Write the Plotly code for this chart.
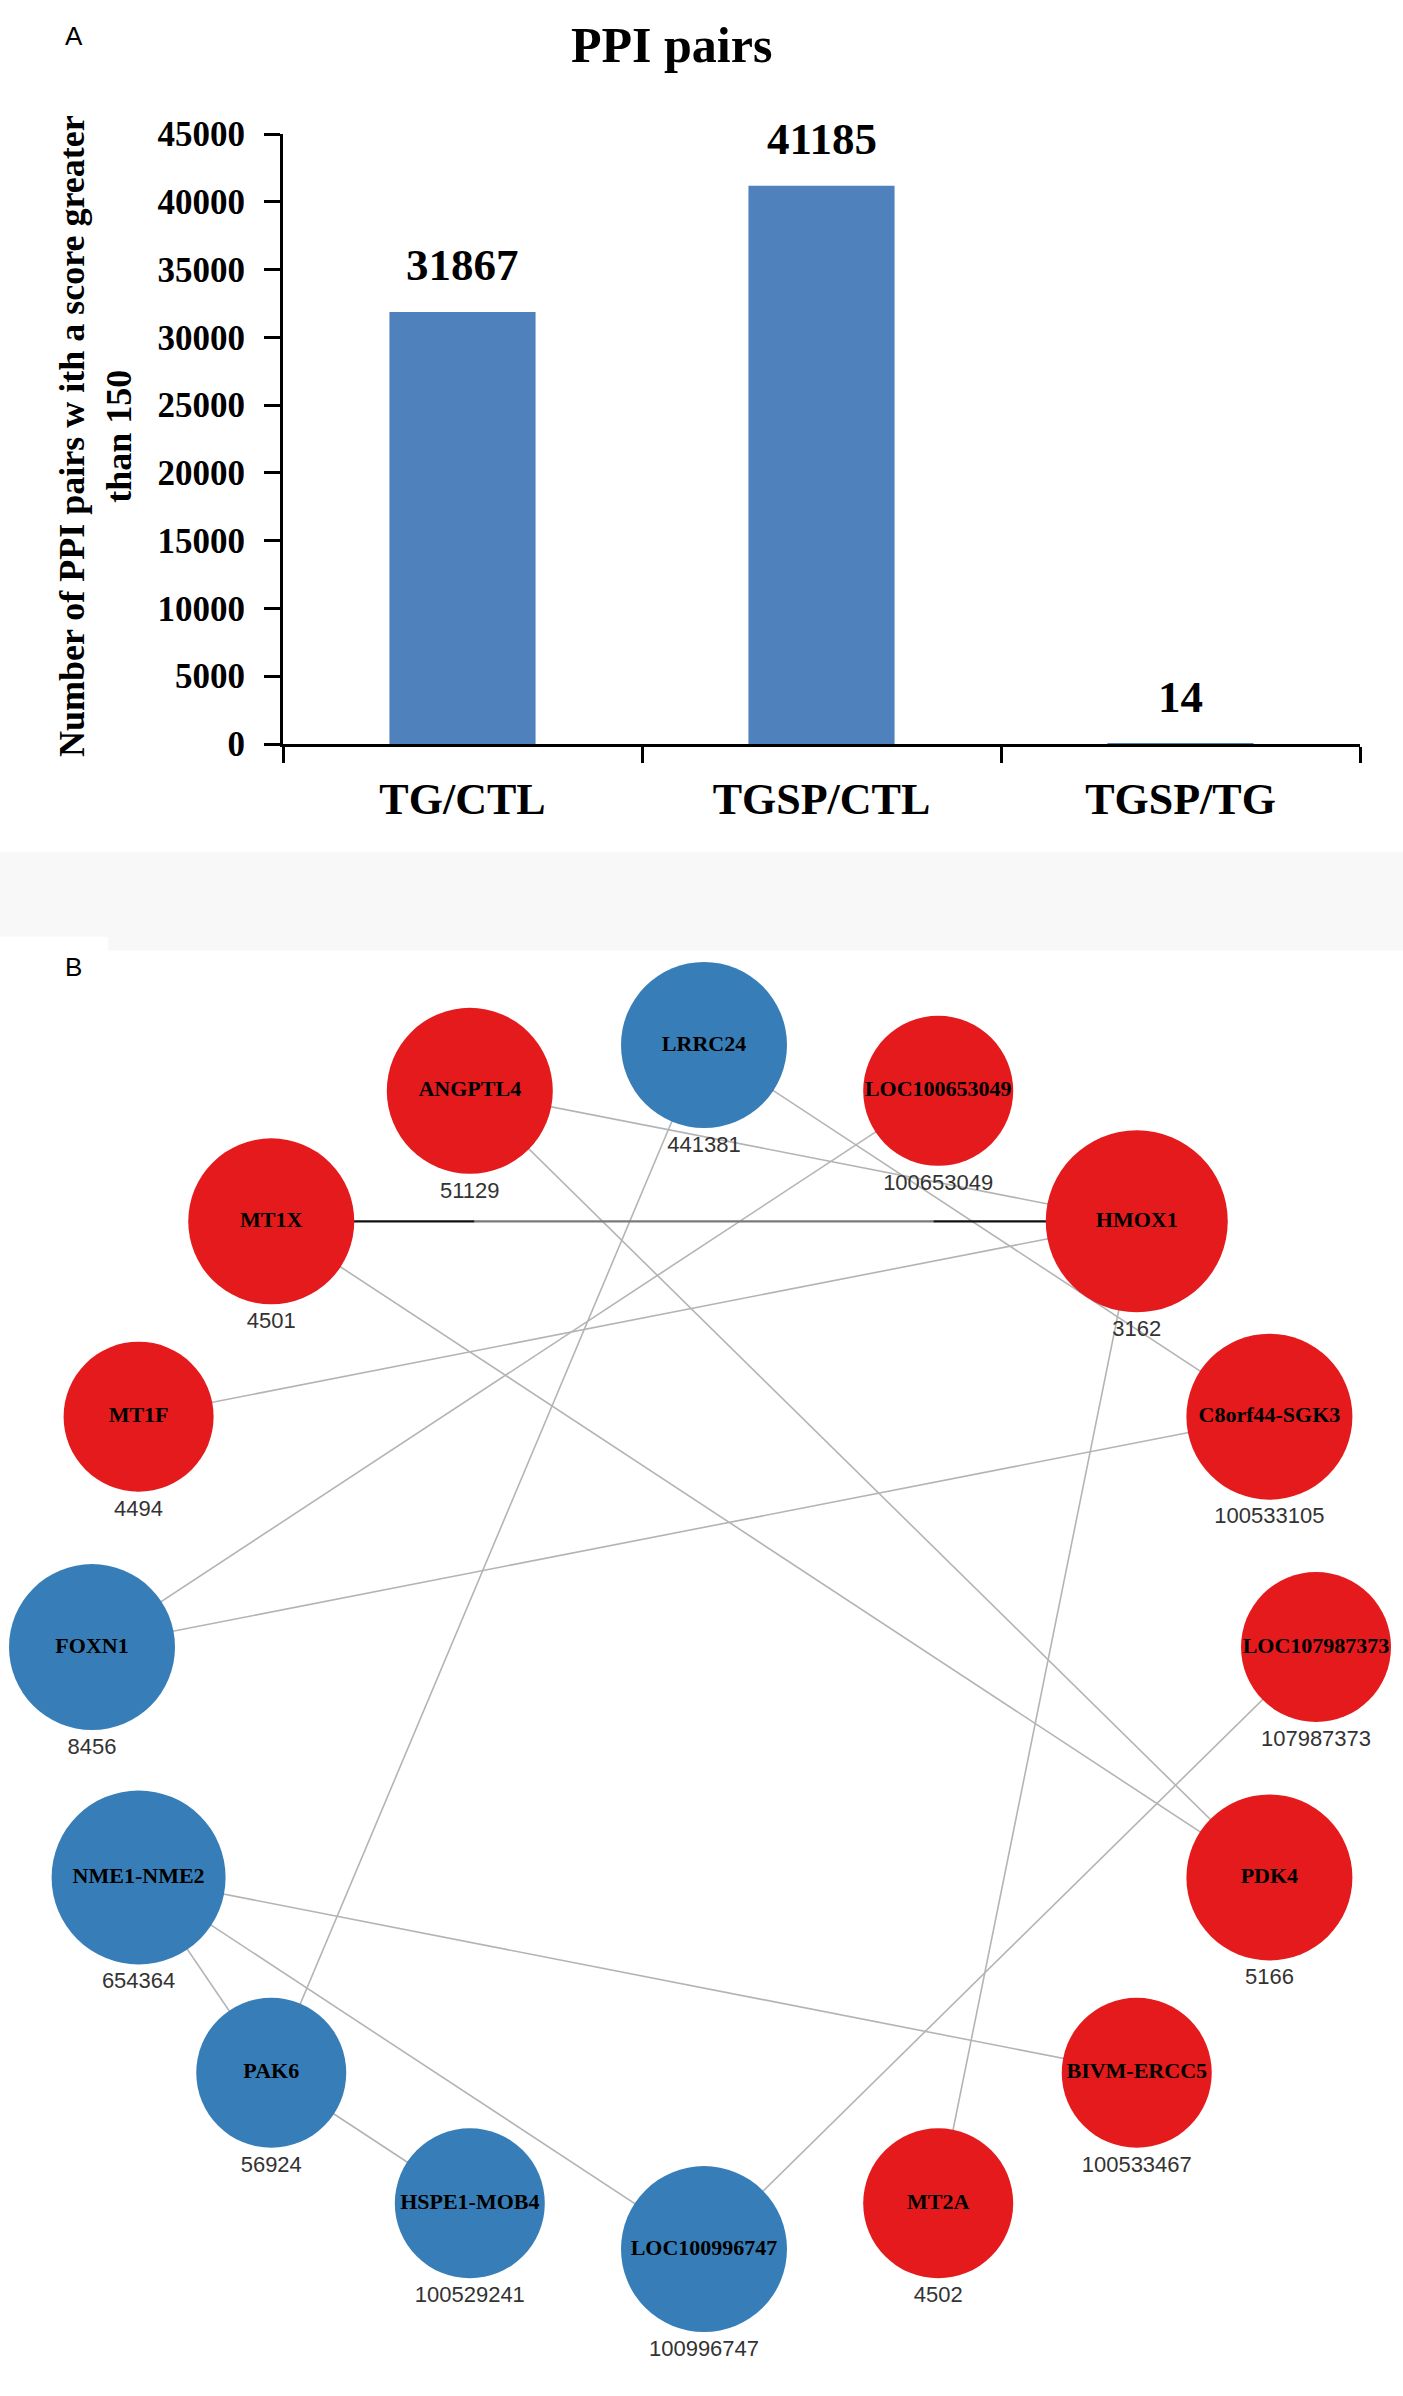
import math
import plotly.graph_objects as go

W, H = 1403, 2396

# panel A data
comparisons = ["TG/CTL", "TGSP/CTL", "TGSP/TG"]
ppi_pairs = [31867, 41185, 14]
y_ticks = [0, 5000, 10000, 15000, 20000, 25000, 30000, 35000, 40000, 45000]

# panel B data (circle order, clockwise from top)
genes = ["LRRC24", "LOC100653049", "HMOX1", "C8orf44-SGK3", "LOC107987373",
         "PDK4", "BIVM-ERCC5", "MT2A", "LOC100996747", "HSPE1-MOB4", "PAK6",
         "NME1-NME2", "FOXN1", "MT1F", "MT1X", "ANGPTL4"]
gene_ids = ["441381", "100653049", "3162", "100533105", "107987373", "5166",
            "100533467", "4502", "100996747", "100529241", "56924", "654364",
            "8456", "4494", "4501", "51129"]
regulation = ["down", "up", "up", "up", "up", "up", "up", "up", "down", "down",
              "down", "down", "down", "up", "up", "up"]
node_size = [166, 150, 182, 166, 150, 166, 150, 150, 166, 150, 150, 174, 166,
             150, 166, 166]
edges = [("ANGPTL4", "HMOX1"), ("LRRC24", "C8orf44-SGK3"),
         ("LOC100653049", "FOXN1"), ("HMOX1", "MT1F"), ("LRRC24", "PAK6"),
         ("ANGPTL4", "PDK4"), ("MT1X", "PDK4"), ("HMOX1", "MT2A"),
         ("C8orf44-SGK3", "FOXN1"), ("LOC107987373", "LOC100996747"),
         ("NME1-NME2", "BIVM-ERCC5"), ("NME1-NME2", "PAK6"),
         ("NME1-NME2", "LOC100996747"), ("PAK6", "HSPE1-MOB4")]
strong_edges = [("MT1X", "HMOX1")]

colors = {"up": "#E41A1C", "down": "#377EB8"}
serif = "Liberation Serif"
sans = "Liberation Sans"


def py(px):
    # pixel row -> paper fraction
    return 1 - px / H


fig = go.Figure()

# ---- panel A: bar chart
fig.add_trace(go.Bar(x=comparisons, y=ppi_pairs, marker_color="#4F81BD",
                     marker_line_width=0, xaxis="x", yaxis="y",
                     showlegend=False, hoverinfo="x+y"))

annotations = []
for c, v in zip(comparisons, ppi_pairs):
    annotations.append(dict(x=c, y=v, xref="x", yref="y", text=str(v),
                            showarrow=False, yanchor="middle", yshift=47,
                            font=dict(family=serif, size=45, color="black",
                                      weight="bold")))

# ---- panel B: circular network
n = len(genes)
cx, cy, R = 704, 1655, 612
pos = {}
for i, g in enumerate(genes):
    a = math.radians(90 - i * 360 / n)
    pos[g] = (cx + R * math.cos(a), cy - R * math.sin(a))

ex, ey = [], []
for a, b in edges:
    ex += [pos[a][0], pos[b][0], None]
    ey += [pos[a][1], pos[b][1], None]
fig.add_trace(go.Scatter(x=ex, y=ey, mode="lines", xaxis="x2", yaxis="y2",
                         line=dict(color="#b4b4b4", width=1.6),
                         hoverinfo="skip", showlegend=False))

# strong edge: dark ends, grey middle
for a, b in strong_edges:
    (x0, y0), (x1, y1) = pos[a], pos[b]
    for t0, t1, col in [(0, 0.235, "#111111"), (0.235, 0.765, "#7a7a7a"),
                        (0.765, 1, "#111111")]:
        fig.add_trace(go.Scatter(
            x=[x0 + (x1 - x0) * t0, x0 + (x1 - x0) * t1],
            y=[y0 + (y1 - y0) * t0, y0 + (y1 - y0) * t1],
            mode="lines", xaxis="x2", yaxis="y2",
            line=dict(color=col, width=2.2), hoverinfo="skip",
            showlegend=False))

nx = [pos[g][0] for g in genes]
ny = [pos[g][1] for g in genes]
fig.add_trace(go.Scatter(
    x=nx, y=ny, mode="markers+text", xaxis="x2", yaxis="y2",
    marker=dict(size=node_size, color=[colors[r] for r in regulation],
                line=dict(width=0), opacity=1),
    text=genes, textposition="middle center",
    textfont=dict(family=serif, size=22, color="black", weight="bold"),
    hoverinfo="text", showlegend=False))

fig.add_trace(go.Scatter(
    x=nx, y=[y + s / 2 + 20 for y, s in zip(ny, node_size)],
    mode="text", xaxis="x2", yaxis="y2", text=gene_ids,
    textposition="middle center",
    textfont=dict(family=sans, size=22, color="#333333"),
    hoverinfo="skip", showlegend=False))

# titles and panel letters
annotations += [
    dict(x=671 / W, y=py(26), xref="paper", yref="paper", text="PPI pairs",
         showarrow=False, xanchor="center", yanchor="middle",
         font=dict(family=serif, size=50, color="black", weight="bold")),
    dict(x=95 / W, y=py(424), xref="paper", yref="paper",
         text="Number of PPI pairs w ith a score greater<br>than 150",
         showarrow=False, textangle=-90, xanchor="center", yanchor="middle",
         font=dict(family=serif, size=36, color="black", weight="bold")),
    dict(x=74 / W, y=py(17), xref="paper", yref="paper", text="A",
         showarrow=False, xanchor="center", yanchor="middle",
         font=dict(family=sans, size=26, color="black")),
    dict(x=73 / W, y=py(964), xref="paper", yref="paper", text="B",
         showarrow=False, xanchor="center", yanchor="middle",
         font=dict(family=sans, size=26, color="black")),
]

shapes = [
    dict(type="rect", xref="paper", yref="paper", x0=0, x1=1,
         y0=py(947), y1=py(847), fillcolor="#f8f8f8", line_width=0,
         layer="below"),
    dict(type="rect", xref="paper", yref="paper", x0=0, x1=108 / W,
         y0=py(947), y1=py(933), fillcolor="white", line_width=0,
         layer="below"),
]

fig.update_layout(
    width=W, height=H, autosize=False,
    margin=dict(l=0, r=0, t=0, b=0),
    paper_bgcolor="white", plot_bgcolor="rgba(0,0,0,0)",
    bargap=0.593,
    annotations=annotations, shapes=shapes,
    xaxis=dict(domain=[283 / W, 1360 / W], anchor="y", range=[-0.5, 2.5],
               showline=True, linecolor="black", linewidth=3,
               ticks="outside", tickson="boundaries", ticklen=16,
               tickwidth=3, tickcolor="black", showgrid=False,
               layer="above traces", ticklabelstandoff=14,
               tickfont=dict(family=serif, size=44, color="black",
                             weight="bold")),
    yaxis=dict(domain=[py(737), py(117)], anchor="x", range=[0, 45000],
               tickvals=y_ticks, ticktext=[str(v) for v in y_ticks],
               showline=True, linecolor="black",
               linewidth=3, ticks="outside", ticklen=16, tickwidth=3,
               tickcolor="black", showgrid=False, zeroline=False,
               ticklabelstandoff=12,
               tickfont=dict(family=serif, size=35, color="black",
                             weight="bold")),
    xaxis2=dict(domain=[0, 1], anchor="y2", range=[0, W], visible=False,
                fixedrange=True),
    yaxis2=dict(domain=[0, py(947)], anchor="x2", range=[H, 947],
                visible=False, fixedrange=True),
)

pin_top_left = (
    "document.documentElement.style.margin='0';"
    "document.body.style.margin='0';"
    "document.body.style.overflow='hidden';"
    "var gd=document.querySelector('.plotly-graph-div');"
    "gd.style.position='fixed';gd.style.top='0';gd.style.left='0';"
)
fig.write_html("out.html", config={"displayModeBar": False},
               post_script=pin_top_left)
